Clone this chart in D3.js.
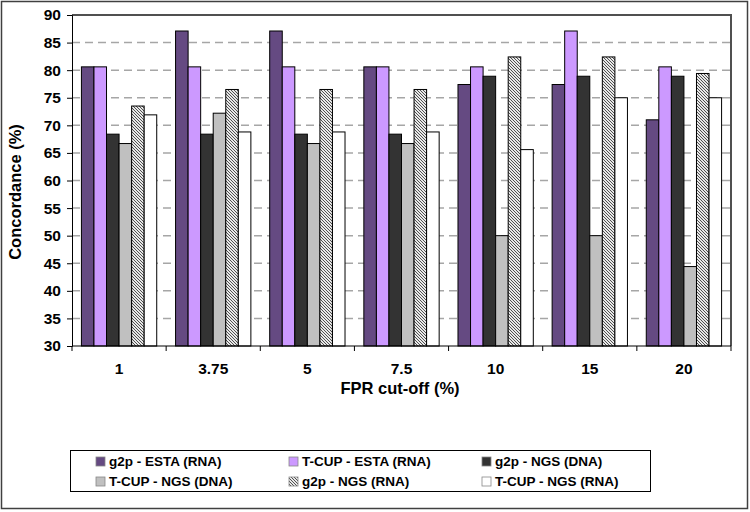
<!DOCTYPE html>
<html><head><meta charset="utf-8">
<script src="https://cdn.jsdelivr.net/npm/d3@7"></script>
<style>body{margin:0;background:#fff;}svg{display:block;} text{font-family:"Liberation Sans",Arial,sans-serif;}</style>
</head><body>
<svg id="c" width="750" height="512"></svg>
<script>
const categories = ["1","3.75","5","7.5","10","15","20"];
const seriesNames = ["g2p - ESTA (RNA)","T-CUP - ESTA (RNA)","g2p - NGS (DNA)","T-CUP - NGS (DNA)","g2p - NGS (RNA)","T-CUP - NGS (RNA)"];
const g2pEsta   = [80.6, 87.1, 87.1, 80.6, 77.4, 77.4, 71.0];
const tcupEsta  = [80.6, 80.6, 80.6, 80.6, 80.6, 87.1, 80.6];
const g2pNgsDna = [68.4, 68.4, 68.4, 68.4, 78.9, 78.9, 78.9];
const tcupNgsDna= [66.7, 72.2, 66.7, 66.7, 50.0, 50.0, 44.4];
const g2pNgsRna = [73.5, 76.5, 76.5, 76.5, 82.4, 82.4, 79.4];
const tcupNgsRna= [71.9, 68.8, 68.8, 68.8, 65.6, 75.0, 75.0];
const yTicks = [30,35,40,45,50,55,60,65,70,75,80,85,90];

const series = [g2pEsta, tcupEsta, g2pNgsDna, tcupNgsDna, g2pNgsRna, tcupNgsRna];
const fills = ["#654A82","#CC99FF","#333333","#C0C0C0","url(#hatch)","#FFFFFF"];
const FONT = "'Liberation Sans', Arial, sans-serif";

const svg = d3.select("#c");
const defs = svg.append("defs");
const pat = defs.append("pattern").attr("id","hatch").attr("patternUnits","userSpaceOnUse")
  .attr("width",3).attr("height",3);
pat.append("rect").attr("width",3).attr("height",3).attr("fill","#e8e8e8");
pat.append("path").attr("d","M-1,-1 L4,4 M-1,2 L1,4 M2,-1 L4,1").attr("stroke","#505050").attr("stroke-width",1);

// outer border
svg.append("rect").attr("x",1.5).attr("y",1.5).attr("width",746).attr("height",507)
  .attr("fill","none").attr("stroke","#404040").attr("stroke-width",1.5);

const L=72, R=731, T=15, B=346;
const x = d3.scaleBand().domain(categories).range([L,R]).paddingInner(0).paddingOuter(0);
const y = d3.scaleLinear().domain([30,90]).range([B,T]);
const inner = d3.scaleBand().domain(d3.range(series.length)).range([0,x.bandwidth()]).paddingOuter(0.75).paddingInner(0);

// gridlines
svg.append("g").selectAll("line").data(yTicks.filter(t=>t>30 && t<90)).join("line")
  .attr("x1",L).attr("x2",R).attr("y1",d=>y(d)).attr("y2",d=>y(d))
  .attr("stroke","#A6A6A6").attr("stroke-width",1.5).attr("stroke-dasharray","8,5");
// top and right border of plot
svg.append("path").attr("d",`M${L},${y(90)} H${R} V${B}`).attr("fill","none")
  .attr("stroke","#505050").attr("stroke-width",2);

// bars
series.forEach((s,i)=>{
  svg.append("g").selectAll("rect").data(s).join("rect")
    .attr("x",(d,j)=>x(categories[j])+inner(i))
    .attr("width",inner.bandwidth())
    .attr("y",d=>y(d)).attr("height",d=>B-y(d))
    .attr("fill",fills[i]).attr("stroke","#000").attr("stroke-width",1);
});

// axes
const yAxis = d3.axisLeft(y).tickValues(yTicks).tickSize(5).tickPadding(6);
const gy = svg.append("g").attr("transform",`translate(${L},0)`).call(yAxis)
  .attr("font-family",FONT).attr("font-size",15);
gy.select(".domain").attr("stroke","#000");
gy.selectAll("text").attr("font-family",FONT).attr("font-size",15.5).attr("font-weight","bold").attr("fill","#000");

const xAxis = d3.axisBottom(x).tickSize(0).tickPadding(17);
const gx = svg.append("g").attr("transform",`translate(0,${B})`).call(xAxis)
  .attr("font-family",FONT).attr("font-size",15);
gx.select(".domain").remove();
gx.selectAll("text").attr("font-family",FONT).attr("font-size",15.5).attr("font-weight","bold").attr("fill","#000");
// boundary ticks
const bounds = categories.map(c=>x(c)).concat([R]);
svg.append("g").selectAll("line").data(bounds).join("line")
  .attr("x1",d=>d).attr("x2",d=>d).attr("y1",B).attr("y2",B+5).attr("stroke","#000");
svg.append("line").attr("x1",L).attr("x2",R).attr("y1",B).attr("y2",B).attr("stroke","#000").attr("stroke-width",1.2);

// axis titles
svg.append("text").attr("x",400).attr("y",394).attr("text-anchor","middle")
  .attr("font-family",FONT).attr("font-size",16.5).attr("font-weight","bold").text("FPR cut-off (%)");
svg.append("text").attr("transform",`translate(21,192) rotate(-90)`).attr("text-anchor","middle")
  .attr("font-family",FONT).attr("font-size",16.5).attr("font-weight","bold").text("Concordance (%)");

// legend
svg.append("rect").attr("x",70.5).attr("y",450.5).attr("width",580).attr("height",41)
  .attr("fill","#fff").attr("stroke","#000").attr("stroke-width",1);
const colX = [96, 289, 482];
const rowY = [461.5, 481.5];
seriesNames.forEach((n,i)=>{
  const cx = colX[i%3], cy = rowY[Math.floor(i/3)];
  svg.append("rect").attr("x",cx).attr("y",cy-4.5).attr("width",9).attr("height",9)
    .attr("fill",fills[i]).attr("stroke","#888").attr("stroke-width",0.8);
  svg.append("text").attr("x",cx+13).attr("y",cy).attr("dy","0.36em")
    .attr("font-family",FONT).attr("font-size",13.5).attr("font-weight","bold").text(n);
});
</script>
</body></html>
